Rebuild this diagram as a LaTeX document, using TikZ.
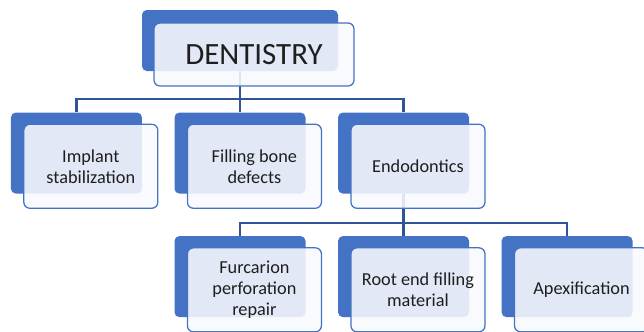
\documentclass[tikz,border=0pt]{standalone}
\usepackage{fontspec}
\setmainfont{Carlito}
\usetikzlibrary{positioning,calc}
\definecolor{AccentBlue}{RGB}{68,114,196}
\definecolor{LinkBlue}{RGB}{47,85,151}
\definecolor{InkGray}{RGB}{30,30,30}
\tikzset{
  backbox/.style={draw=none,rounded corners=1.2mm,fill=AccentBlue,
    minimum width=3.275cm,minimum height=2.025cm,inner sep=0pt},
  glassbox/.style={draw=AccentBlue,line width=0.9pt,rounded corners=1.5mm,
    fill=AccentBlue!4,fill opacity=0.88,text opacity=1,text=InkGray,
    inner sep=2pt,align=center},
  frontbox/.style={glassbox,minimum width=3.35cm,minimum height=2.1cm,
    font=\fontsize{13}{15}\selectfont,xshift=0.36cm,yshift=-0.33cm},
  topback/.style={backbox,minimum width=4.9cm,minimum height=1.525cm},
  topfront/.style={glassbox,minimum width=5.0cm,minimum height=1.575cm,
    font=\fontsize{22}{26}\selectfont,xshift=0.35cm,yshift=-0.35cm},
  linkline/.style={draw=LinkBlue,line width=1.6pt},
}
\begin{document}
\begin{tikzpicture}[node distance=0.8cm]
  \useasboundingbox (0,0) rectangle (16.1,-8.275);
  \node[topback] (topb) at (6.0,-1.0125) {};
  \node[backbox,below=1.025cm of topb] (fillb) {};
  \node[backbox,left=of fillb] (implb) {};
  \node[backbox,right=of fillb] (endob) {};
  \node[backbox,below=1.05cm of endob] (rootb) {};
  \node[backbox,left=of rootb] (furcb) {};
  \node[backbox,right=of rootb] (apexb) {};
  \coordinate (hub1) at ($(fillb.north)+(0,0.34)$);
  \coordinate (hub2) at ($(rootb.north)+(0,0.325)$);
  \draw[linkline] (topb.south) -- (hub1);
  \draw[linkline] (implb.north) |- (hub1) -| (endob.north);
  \draw[linkline] (hub1) -- (fillb.north);
  \draw[linkline] (endob.south) -- (hub2);
  \draw[linkline] (furcb.north) |- (hub2) -| (apexb.north);
  \draw[linkline] (hub2) -- (rootb.north);
  \node[topfront] (topf) at (topb) {DENTISTRY};
  \node[frontbox] (implf) at (implb) {Implant\\stabilization};
  \node[frontbox] (fillf) at (fillb) {Filling bone\\defects};
  \node[frontbox] (endof) at (endob) {Endodontics};
  \node[frontbox] (furcf) at (furcb) {Furcarion\\perforation\\repair};
  \node[frontbox] (rootf) at (rootb) {Root end filling\\material};
  \node[frontbox] (apexf) at (apexb) {Apexification};
\end{tikzpicture}
\end{document}
